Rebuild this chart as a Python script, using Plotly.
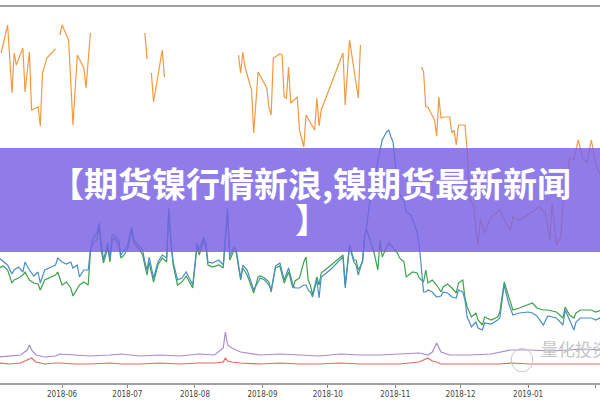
import pandas as pd
import plotly.graph_objects as go

BASE = pd.Timestamp("2018-05-01")

# days since 2018-05-01
orange_days = [3, 6, 8, 9, 10, 13, 14, 16, 17, 20, 21, 22, 24, 28, 29, 30, 31, 34, 36, 38, 41, 42, 44, 45,
               69, 70, 71, 72, 73, 77, 78, 79,
               112, 113, 114, 115, 118, 119, 121, 125, 126, 127, 128, 131, 132, 133, 134, 135, 136, 139, 140,
               142, 143, 147, 148, 149, 150, 160, 161, 163, 167, 168, 170,
               196, 197, 198, 199, 202, 203, 204, 205, 206, 209, 210, 211, 212, 213, 216, 217, 218, 220, 221,
               222, 223, 225, 228, 232, 234, 237, 238, 241, 246, 250, 253, 255, 256, 258, 260, 261, 263, 264,
               266, 268, 270, 272, 274, 276, 279]
orange_vals = [33.0, 35.8, 29.0, 33.0, 31.8, 33.5, 29.1, 33.1, 27.3, 27.6, 25.7, 31.0, 32.5, 33.4, None, 34.8,
               35.8, 34.3, 25.8, 32.8, 31.5, 29.5, 35.0, None,
               35.0, 32.4, None, 31.0, 28.1, 33.3, 30.6, None,
               32.8, 31.0, 33.1, 31.6, 29.3, 25.0, 31.1, 29.5, 27.5, 26.8, 32.5, 32.9, 32.8, 28.6, 28.5, 31.6,
               28.0, 28.6, 25.3, 23.6, 26.8, 25.3, 28.5, 25.7, 27.3, 33.0, 27.8, 34.3, 28.5, 33.8, None,
               31.6, 31.1, 27.6, 27.6, 26.3, 24.7, 28.6, 26.5, 26.6, 26.6, 25.0, 25.3, 23.8, 25.8, 25.8, 23.3,
               18.6, 17.6, 15.5, 13.8, 16.3, 15.0, 16.6, 17.3, 16.3, 15.3, 16.6, 16.3, 17.0, 17.6, 17.0, 14.3,
               18.0, 13.8, 14.6, 18.0, 19.3, 22.6, 22.3, 24.3, 22.6, 22.0, 24.3, 22.0, 20.3]

bg_days = [2, 4, 6, 8, 9, 11, 13, 14, 16, 18, 20, 21, 23, 25, 28, 29, 31, 33, 35, 36, 38, 39, 41, 43, 44, 45,
           47, 48, 49, 50, 52, 53, 54, 55, 57, 58, 59, 61, 63, 64, 66, 68, 69, 70, 71, 73, 75, 77, 79, 80, 81,
           82, 84, 86, 88, 91, 93, 94, 96, 97, 98, 100, 103, 105, 107, 108, 110, 111, 113, 114, 116, 119, 121,
           122, 124, 126, 127, 129, 131, 133, 135, 137, 138, 140, 142, 143, 144, 145, 146, 148, 149, 150, 154,
           158, 160, 161, 163, 165, 166, 167, 169, 170, 171, 172, 174, 176, 177, 178, 180, 181, 182, 183, 184,
           185, 186, 188, 189, 191, 192, 194, 195, 197, 198, 199, 201, 203, 205, 206, 208, 210, 212, 213, 215,
           216, 217, 219, 221, 222, 224, 225, 228, 231, 232, 234, 236, 238, 241, 245, 247, 249, 252, 254, 256,
           258, 261, 262, 264, 266, 267, 269, 272, 274, 276, 279]
blue_vals = [12.5, 12.1, 11.8, 10.9, 11.3, 11.6, 11.1, 12.1, 11.3, 10.7, 11.1, 10.0, 11.3, 11.5, 11.8, 12.5,
             12.1, 11.9, 12.1, 11.5, 11.8, 10.6, 11.3, 11.3, 13.3, 14.3, 15.1, 16.0, 13.8, 12.3, 14.0, 12.5,
             14.8, 14.8, 14.3, 12.8, 13.1, 13.7, 15.6, 14.3, 13.8, 13.3, 12.1, 11.3, 12.6, 10.5, 12.1, 12.8,
             12.5, 17.5, 14.3, 12.1, 10.3, 10.5, 11.1, 9.8, 14.0, 13.3, 14.6, 14.0, 12.1, 12.0, 12.3, 11.8,
             17.5, 12.7, 13.6, 13.3, 10.5, 11.8, 11.3, 9.3, 10.1, 10.5, 10.3, 9.8, 9.3, 11.7, 12.0, 10.3, 11.5,
             9.8, 9.5, 9.5, 9.8, 9.8, 9.3, 9.1, 8.6, 10.3, 8.5, 10.6, 11.3, 12.1, 12.6, 9.5, 13.6, 12.1, 11.8,
             10.8, 12.3, 14.8, 15.8, 17.8, 19.3, 22.3, 23.5, 24.3, 25.1, 25.3, 24.6, 24.1, 21.8, 20.3, 18.8,
             18.3, 17.1, 16.8, 16.3, 15.1, 13.8, 9.1, 9.1, 9.3, 9.1, 8.6, 8.7, 9.1, 9.0, 8.6, 8.5, 9.3, 9.1,
             8.3, 6.6, 5.6, 6.1, 5.5, 5.3, 6.0, 5.9, 6.3, 6.5, 9.8, 8.0, 6.8, 7.0, 7.1, 7.0, 6.7, 5.8, 6.7,
             6.6, 6.5, 5.8, 7.3, 6.3, 5.3, 6.1, 6.5, 6.5, 6.5, 6.3, 6.6]
green_vals = [11.5, 11.7, 11.3, 10.0, 10.3, 10.5, 10.8, 11.1, 10.3, 10.0, 9.9, 9.3, 10.3, 10.5, 10.8, 11.1,
              9.8, 10.1, 9.5, 8.7, 9.5, 9.8, 10.1, 9.8, 13.1, 14.0, 14.3, 15.7, 13.3, 12.0, 13.5, 12.1, 14.3,
              14.5, 13.8, 12.5, 12.7, 13.3, 15.3, 14.0, 13.5, 12.8, 11.8, 10.8, 12.1, 10.1, 11.8, 12.5, 12.1,
              17.1, 13.9, 11.8, 9.8, 10.1, 10.7, 9.5, 13.7, 12.8, 14.3, 13.6, 11.8, 11.6, 11.8, 11.5, 17.1,
              12.3, 13.3, 13.0, 10.3, 11.5, 10.8, 9.0, 10.6, 10.7, 10.5, 10.1, 9.1, 11.5, 11.7, 10.0, 11.1,
              9.5, 10.2, 10.5, 12.1, 12.6, 10.3, 9.8, 8.8, 10.6, 9.8, 11.0, 11.7, 12.4, 12.8, 9.8, 13.8, 12.3,
              12.3, 11.3, 12.1, 14.8, 15.3, 14.5, 13.3, 11.3, 14.3, 12.6, 13.5, 14.0, 13.8, 13.5, 13.3, 13.0,
              12.5, 12.1, 10.6, 10.9, 11.1, 11.0, 10.5, 10.1, 11.3, 10.0, 10.3, 9.8, 9.1, 9.6, 9.9, 9.5, 9.0,
              10.0, 10.3, 8.5, 7.6, 6.6, 7.0, 6.3, 5.8, 6.6, 6.3, 6.6, 7.1, 10.1, 8.6, 7.3, 7.5, 7.8, 8.0, 7.5,
              7.3, 7.3, 7.2, 7.1, 6.5, 7.6, 6.8, 6.5, 7.0, 7.3, 7.3, 7.3, 7.1, 7.3]

pr_days = [2, 7, 12, 15, 16, 17, 19, 23, 28, 30, 37, 44, 53, 58, 67, 76, 85, 94, 101, 105, 106, 107, 109,
           113, 122, 131, 140, 149, 159, 168, 177, 186, 195, 199, 201, 203, 205, 209, 218, 228, 232, 237, 246,
           255, 264, 269, 279]
purple_vals = [2.6, 2.7, 2.8, 3.3, 3.8, 3.3, 2.8, 2.6, 2.7, 2.9, 2.8, 2.7, 2.8, 2.9, 2.7, 2.8, 2.7, 2.9, 2.8,
               3.5, 5.1, 3.8, 3.5, 3.1, 2.8, 2.9, 2.8, 2.7, 2.9, 2.8, 2.8, 2.9, 3.0, 2.8, 3.1, 4.0, 3.1, 2.8,
               2.8, 2.9, 3.1, 3.3, 3.3, 3.2, 3.3, 3.4, 3.3]
red_vals = [2.0, 1.9, 2.0, 2.3, 2.4, 2.5, 2.1, 1.9, 2.0, 2.0, 1.9, 1.9, 2.0, 1.9, 1.9, 2.0, 1.9, 2.0, 2.0, 2.1,
            2.5, 2.2, 2.1, 2.0, 1.9, 2.0, 1.9, 1.9, 2.0, 1.9, 1.9, 1.9, 2.1, 2.5, 2.2, 2.1, 1.9, 1.9, 1.9, 1.9,
            1.9, 2.0, 1.9, 1.9, 1.9, 1.9, 1.9]

tick_dates = ["2018-05-01", "2018-06-01", "2018-07-01", "2018-08-01", "2018-09-01", "2018-10-01",
              "2018-11-01", "2018-12-01", "2019-01-01", "2019-02-01"]
tick_labels = ["2018-05", "2018-06", "2018-07", "2018-08", "2018-09", "2018-10", "2018-11", "2018-12",
               "2019-01", "2019-02"]

title_line1 = "【期货镍行情新浪,镍期货最新新闻"
title_line2 = "】"
watermark = "量化投资"


def to_dates(days):
    return [BASE + pd.Timedelta(days=d) for d in days]


fig = go.Figure()
series = [
    (to_dates(pr_days), red_vals, "#e0695c"),
    (to_dates(pr_days), purple_vals, "#a78ccf"),
    (to_dates(bg_days), green_vals, "#3da24a"),
    (to_dates(bg_days), blue_vals, "#4a8fc4"),
    (to_dates(orange_days), orange_vals, "#f39a40"),
]
for x, y, c in series:
    fig.add_trace(go.Scatter(x=x, y=y, mode="lines", line=dict(color=c, width=1.2),
                             connectgaps=False, showlegend=False, hoverinfo="skip"))

fig.update_layout(
    width=600, height=400,
    margin=dict(l=0, r=0, t=7, b=17),
    paper_bgcolor="white", plot_bgcolor="white",
    xaxis=dict(type="date", range=["2018-05-03 12:00", "2019-02-03"],
               tickvals=tick_dates, ticktext=tick_labels, automargin=False,
               showgrid=False, zeroline=False, showline=True, mirror=True,
               linecolor="#a0a0a0", linewidth=1.5, ticks="outside", ticklen=3,
               tickcolor="#888", tickfont=dict(family="Liberation Sans Narrow, DejaVu Sans Condensed, sans-serif",
                                             size=8, color="#444")),
    yaxis=dict(range=[0, 37.6], showgrid=False, zeroline=False, showticklabels=False,
               showline=False, ticks="", automargin=False),
    shapes=[
        dict(type="rect", xref="paper", yref="paper", x0=0, x1=1, y0=(383 - 252) / 376, y1=(383 - 148) / 376,
             fillcolor="rgba(120,95,228,0.82)", line=dict(width=0), layer="above"),
        dict(type="circle", xref="paper", yref="paper", x0=0.852, x1=0.888, y0=0.03, y1=0.092,
             line=dict(color="#c8c8c8", width=1), layer="above"),
    ],
    annotations=[
        dict(text="<b>" + title_line1 + "</b>", xref="paper", yref="paper", x=0.518, y=(383 - 182) / 376,
             showarrow=False, font=dict(family="Noto Sans CJK SC", size=34, color="white")),
        dict(text="<b>" + title_line2 + "</b>", xref="paper", yref="paper", x=0.52, y=(383 - 218) / 376,
             showarrow=False, font=dict(family="Noto Sans CJK SC", size=34, color="white")),
        dict(text=watermark, xref="paper", yref="paper", x=0.898, y=0.052, xanchor="left",
             showarrow=False, font=dict(family="Noto Sans CJK SC", size=17, color="#c4c4c4")),
    ],
)

fig.write_html("out.html", config={"displayModeBar": False},
               post_script="document.body.style.margin='0';document.body.style.overflow='hidden';")
